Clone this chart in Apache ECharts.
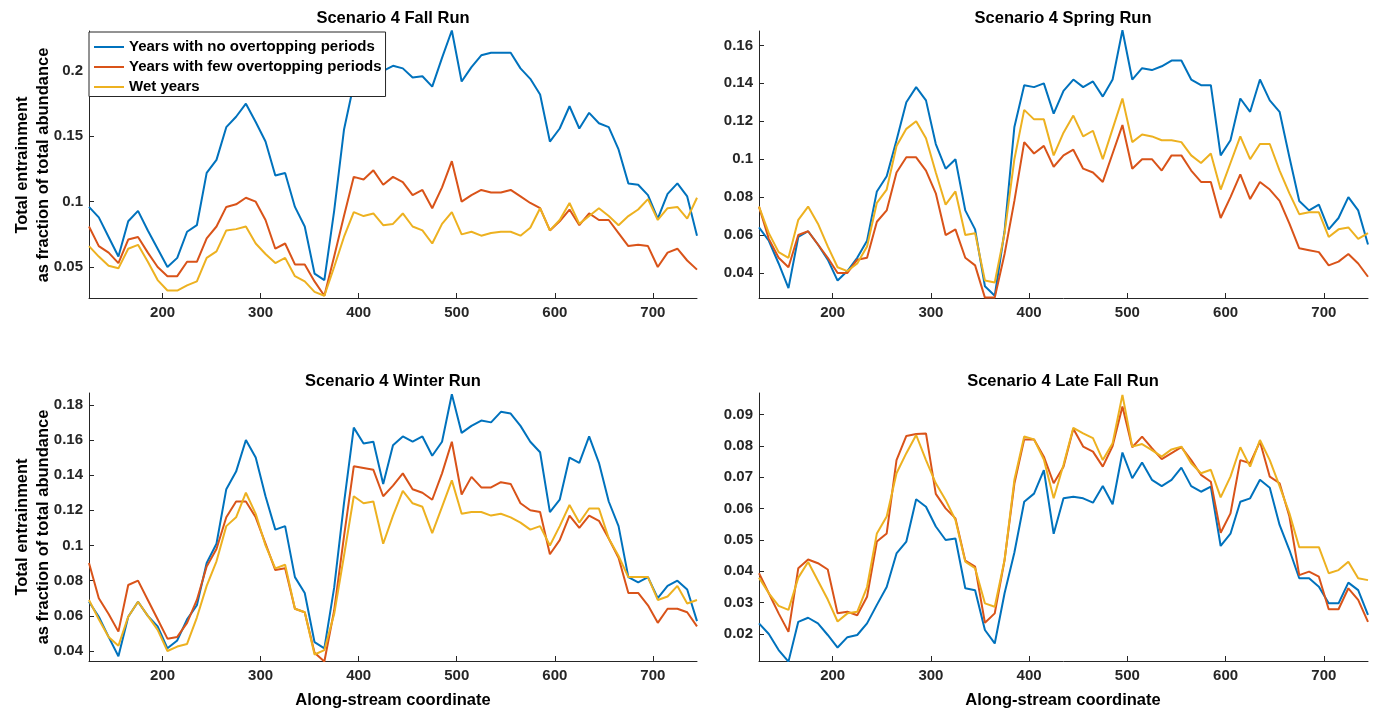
<!DOCTYPE html>
<html><head><meta charset="utf-8">
<script src="https://cdn.jsdelivr.net/npm/echarts@6/dist/echarts.min.js"></script>
<style>html,body{margin:0;padding:0;background:#fff}#c{width:1380px;height:711px}</style>
</head><body><div id="c"></div>
<script>
// ---- data ----
const xCoords = [125,135,145,155,165,175,185,195,205,215,225,235,245,255,265,275,285,295,305,315,325,335,345,355,365,375,385,395,405,415,425,435,445,455,465,475,485,495,505,515,525,535,545,555,565,575,585,595,605,615,625,635,645,655,665,675,685,695,705,715,725,735,745];
const seriesNames = ['Years with no overtopping periods','Years with few overtopping periods','Wet years'];
const panelTitles = ['Scenario 4 Fall Run','Scenario 4 Spring Run','Scenario 4 Winter Run','Scenario 4 Late Fall Run'];
const xTicks = [200,300,400,500,600,700];
const yTicksFall = [0.05,0.1,0.15,0.2];
const yTicksSpring = [0.04,0.06,0.08,0.1,0.12,0.14,0.16];
const yTicksWinter = [0.04,0.06,0.08,0.1,0.12,0.14,0.16,0.18];
const yTicksLate = [0.02,0.03,0.04,0.05,0.06,0.07,0.08,0.09];

const fallNo = [0.096,0.088,0.073,0.058,0.085,0.093,0.078,0.064,0.050,0.057,
 0.077,0.082,0.122,0.132,0.157,0.165,0.175,0.161,0.146,0.120,
 0.122,0.096,0.081,0.045,0.040,0.093,0.155,0.190,0.198,0.200,
 0.200,0.204,0.202,0.195,0.196,0.188,0.210,0.231,0.192,0.203,
 0.212,0.214,0.214,0.214,0.202,0.194,0.182,0.146,0.156,0.173,
 0.156,0.168,0.160,0.157,0.140,0.114,0.113,0.105,0.087,0.106,
 0.114,0.104,0.074];
const fallFew = [0.081,0.066,0.061,0.053,0.071,0.073,0.061,0.050,0.043,0.043,
 0.054,0.054,0.072,0.081,0.096,0.098,0.103,0.100,0.086,0.064,
 0.068,0.052,0.052,0.039,0.028,0.058,0.089,0.119,0.117,0.124,
 0.113,0.119,0.115,0.105,0.109,0.095,0.111,0.131,0.100,0.105,
 0.109,0.107,0.107,0.109,0.104,0.099,0.095,0.078,0.085,0.094,
 0.082,0.091,0.086,0.086,0.076,0.066,0.067,0.066,0.050,0.061,
 0.064,0.055,0.048];
const fallWet = [0.066,0.058,0.051,0.049,0.064,0.067,0.054,0.040,0.032,0.032,
 0.036,0.039,0.057,0.062,0.078,0.079,0.081,0.068,0.060,0.053,
 0.057,0.043,0.039,0.031,0.028,0.050,0.073,0.092,0.089,0.091,
 0.082,0.083,0.091,0.081,0.078,0.068,0.083,0.092,0.075,0.077,
 0.074,0.076,0.077,0.077,0.074,0.080,0.095,0.078,0.086,0.099,
 0.083,0.089,0.095,0.089,0.082,0.089,0.094,0.102,0.086,0.095,
 0.096,0.087,0.103];

const springNo = [0.064,0.057,0.045,0.032,0.059,0.062,0.055,0.047,0.036,0.041,
 0.048,0.057,0.083,0.091,0.110,0.130,0.138,0.131,0.108,0.095,
 0.100,0.073,0.063,0.033,0.028,0.062,0.117,0.139,0.138,0.140,
 0.124,0.136,0.142,0.138,0.141,0.133,0.142,0.168,0.142,0.148,
 0.147,0.149,0.152,0.152,0.142,0.139,0.139,0.102,0.110,0.132,
 0.125,0.142,0.131,0.125,0.101,0.078,0.073,0.076,0.063,0.069,
 0.080,0.073,0.055];
const springFew = [0.075,0.058,0.048,0.043,0.060,0.062,0.055,0.048,0.040,0.040,
 0.047,0.048,0.067,0.073,0.093,0.101,0.101,0.094,0.082,0.060,
 0.063,0.048,0.044,0.027,0.027,0.050,0.078,0.109,0.103,0.107,
 0.096,0.102,0.105,0.095,0.093,0.088,0.103,0.118,0.095,0.100,
 0.100,0.094,0.102,0.102,0.094,0.088,0.088,0.069,0.080,0.092,
 0.079,0.088,0.084,0.078,0.066,0.053,0.052,0.051,0.044,0.046,
 0.050,0.045,0.038];
const springWet = [0.075,0.061,0.051,0.048,0.068,0.075,0.066,0.054,0.043,0.041,
 0.045,0.054,0.077,0.084,0.107,0.116,0.120,0.111,0.093,0.076,
 0.083,0.060,0.061,0.036,0.035,0.061,0.100,0.126,0.121,0.121,
 0.102,0.114,0.123,0.112,0.115,0.100,0.116,0.132,0.109,0.113,
 0.112,0.110,0.110,0.109,0.102,0.098,0.103,0.084,0.098,0.112,
 0.100,0.108,0.108,0.094,0.082,0.071,0.072,0.072,0.059,0.063,
 0.064,0.058,0.061];

const winterNo = [0.068,0.0595,0.048,0.037,0.0595,0.068,0.060,0.054,0.0415,0.046,
 0.058,0.066,0.090,0.101,0.132,0.142,0.160,0.150,0.128,0.109,
 0.111,0.082,0.073,0.045,0.0415,0.076,0.124,0.167,0.158,0.159,
 0.135,0.157,0.162,0.159,0.162,0.151,0.159,0.186,0.164,0.168,
 0.171,0.170,0.176,0.175,0.168,0.159,0.153,0.119,0.126,0.150,
 0.147,0.162,0.147,0.125,0.111,0.082,0.079,0.082,0.070,0.077,
 0.080,0.075,0.057];
const winterFew = [0.090,0.070,0.061,0.051,0.0775,0.080,0.069,0.058,0.047,0.048,
 0.056,0.069,0.088,0.098,0.116,0.125,0.125,0.116,0.101,0.086,
 0.087,0.064,0.062,0.039,0.034,0.063,0.105,0.145,0.144,0.143,
 0.128,0.134,0.141,0.132,0.130,0.126,0.141,0.159,0.129,0.139,
 0.133,0.133,0.136,0.135,0.124,0.120,0.119,0.095,0.103,0.117,
 0.110,0.117,0.114,0.104,0.093,0.073,0.073,0.066,0.056,0.064,
 0.064,0.062,0.054];
const winterWet = [0.069,0.058,0.048,0.043,0.0595,0.068,0.060,0.052,0.040,0.0425,
 0.044,0.059,0.077,0.091,0.111,0.116,0.130,0.118,0.100,0.087,
 0.089,0.064,0.062,0.038,0.0405,0.061,0.094,0.128,0.124,0.125,
 0.101,0.117,0.131,0.124,0.122,0.107,0.122,0.137,0.118,0.119,
 0.119,0.117,0.118,0.116,0.113,0.109,0.111,0.100,0.111,0.123,
 0.113,0.121,0.121,0.104,0.094,0.082,0.082,0.082,0.069,0.071,
 0.077,0.067,0.069];

const lateNo = [0.0234,0.020,0.0149,0.0112,0.0239,0.0252,0.0234,0.0197,0.0157,0.019,
 0.0197,0.0234,0.0293,0.035,0.0457,0.0495,0.063,0.0606,0.0543,0.050,
 0.0505,0.0346,0.034,0.0213,0.017,0.033,0.046,0.0622,0.0648,0.0723,
 0.052,0.0633,0.0638,0.0633,0.0619,0.0672,0.0614,0.0779,0.0697,0.0747,
 0.0692,0.0672,0.0692,0.0731,0.0672,0.0654,0.067,0.0481,0.052,0.0622,
 0.0633,0.0692,0.0667,0.0548,0.0468,0.0378,0.0378,0.0351,0.0298,0.0298,
 0.0364,0.034,0.0261];
const lateFew = [0.0394,0.033,0.0266,0.0207,0.041,0.0438,0.0426,0.0406,0.0266,0.0271,
 0.026,0.0319,0.0495,0.0521,0.0755,0.0832,0.0838,0.084,0.0647,0.0601,
 0.0569,0.0434,0.0415,0.0236,0.0266,0.0436,0.068,0.0821,0.0821,0.0766,
 0.0681,0.0734,0.0855,0.0798,0.0782,0.0734,0.0800,0.0926,0.0796,0.083,
 0.0793,0.0758,0.0777,0.0796,0.0755,0.0708,0.0686,0.0523,0.0585,0.0755,
 0.0745,0.0814,0.0702,0.0681,0.0575,0.0388,0.0399,0.0383,0.0279,0.0279,
 0.0346,0.0309,0.0239];
const lateWet = [0.038,0.033,0.029,0.0277,0.038,0.043,0.037,0.031,0.024,0.0266,
 0.0271,0.035,0.0521,0.0575,0.0713,0.0777,0.0835,0.0755,0.0681,0.0628,
 0.0564,0.0431,0.041,0.0298,0.0287,0.0436,0.0692,0.083,0.0821,0.0757,
 0.0633,0.0740,0.0858,0.084,0.0825,0.0755,0.0809,0.0963,0.0798,0.0806,
 0.0787,0.0766,0.0789,0.0798,0.0745,0.0713,0.0724,0.0636,0.0702,0.0796,
 0.0734,0.0819,0.0755,0.0672,0.0585,0.0477,0.0477,0.0477,0.0394,0.0404,
 0.0431,0.0378,0.0372];

const xRange = [125, 745];
const yRanges = [[0.0263,0.2306],[0.0268,0.1676],[0.0343,0.1867],[0.0114,0.0969]];

// ---- chart ----
const FONT = "'Liberation Sans', Arial, Helvetica, sans-serif";
const INK = '#262626';
const colors = ['#0072BD','#D95319','#EDB120'];
const grids = [
  {left:89, top:31, width:608, height:267},
  {left:759, top:31, width:609, height:267},
  {left:89, top:393, width:608, height:268},
  {left:759, top:393, width:609, height:268}
];
const yTicks = [yTicksFall, yTicksSpring, yTicksWinter, yTicksLate];
const panels = [[fallNo,fallFew,fallWet],[springNo,springFew,springWet],[winterNo,winterFew,winterWet],[lateNo,lateFew,lateWet]];

const xAxes = grids.map((g,i)=>({
  type:'value', gridIndex:i, min:xRange[0], max:xRange[1],
  axisLine:{show:true, onZero:false, lineStyle:{color:INK, width:1}},
  axisTick:{show:true, inside:true, length:5, customValues:xTicks, lineStyle:{color:INK}},
  axisLabel:{customValues:xTicks, color:INK, fontFamily:FONT, fontWeight:'bold', fontSize:15, margin:7},
  splitLine:{show:false}
}));
const yAxes = grids.map((g,i)=>({
  type:'value', gridIndex:i, min:yRanges[i][0], max:yRanges[i][1],
  axisLine:{show:true, onZero:false, lineStyle:{color:INK, width:1}},
  axisTick:{show:true, inside:true, length:5, customValues:yTicks[i], lineStyle:{color:INK}},
  axisLabel:{customValues:yTicks[i], color:INK, fontFamily:FONT, fontWeight:'bold', fontSize:15, margin:6,
    formatter:v=>String(parseFloat(Number(v).toFixed(4)))},
  splitLine:{show:false}
}));
const series = [];
panels.forEach((p,i)=>{
  p.forEach((vals,k)=>{
    series.push({
      type:'line', name:seriesNames[k], xAxisIndex:i, yAxisIndex:i,
      data: xCoords.map((x,j)=>[x, vals[j]]),
      symbol:'none', showSymbol:false, smooth:false,
      lineStyle:{color:colors[k], width:2},
      itemStyle:{color:colors[k]},
      silent:true, z:2+k
    });
  });
});

const txt = (x,y,text,size,rot)=>({
  type:'text', x:x, y:y, rotation:rot||0, silent:true, z:10,
  style:{text:text, fill:'#000', font:'bold '+size+'px '+FONT,
    align:'center', verticalAlign:'middle', textAlign:'center', textVerticalAlign:'middle', lineHeight:21}
});
const graphics = [
  txt(393,18,panelTitles[0],16.5),
  txt(1063,18,panelTitles[1],16.5),
  txt(393,381,panelTitles[2],16.5),
  txt(1063,381,panelTitles[3],16.5),
  txt(32.5,165,'Total entrainment\nas fraction of total abundance',16.5,Math.PI/2),
  txt(32.5,527,'Total entrainment\nas fraction of total abundance',16.5,Math.PI/2),
  txt(393,700,'Along-stream coordinate',16.5),
  txt(1063,700,'Along-stream coordinate',16.5)
];

const chart = echarts.init(document.getElementById('c'), null, {renderer:'canvas'});
chart.setOption({
  animation:false,
  backgroundColor:'#fff',
  grid: grids.map(g=>Object.assign({containLabel:false}, g)),
  xAxis: xAxes,
  yAxis: yAxes,
  legend:{
    data:seriesNames, left:89, top:32, orient:'vertical',
    itemWidth:30, itemHeight:15, itemGap:5, padding:[7.5,4,2,4],
    borderColor:INK, borderWidth:1, backgroundColor:'#fff', z:20,
    selectedMode:false,
    itemStyle:{opacity:0},
    lineStyle:{width:2},
    textStyle:{fontFamily:FONT, fontWeight:'bold', fontSize:15, color:'#000'}
  },
  series: series,
  graphic: graphics
});
</script></body></html>
